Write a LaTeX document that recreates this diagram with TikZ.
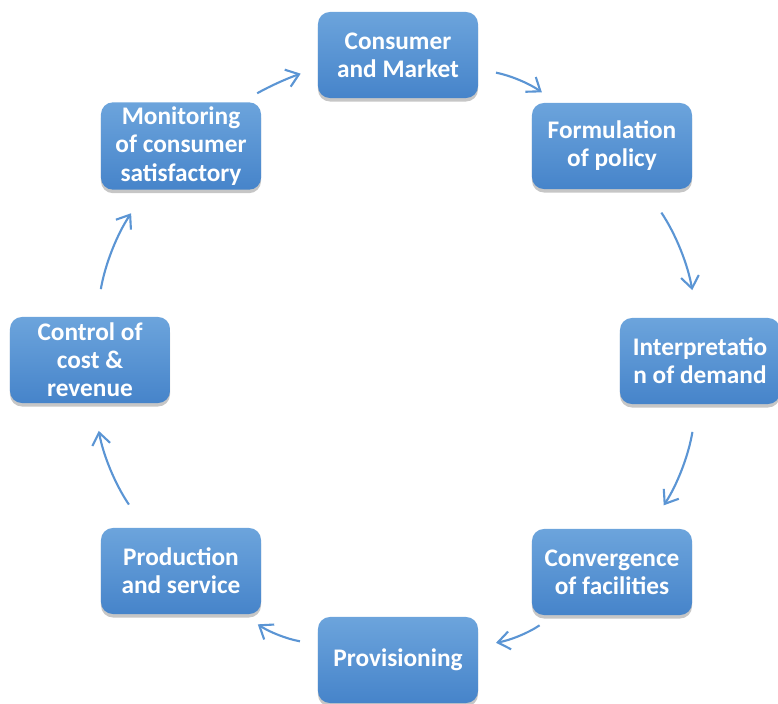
\documentclass[tikz,border=0pt]{standalone}
\usepackage{fontspec}
\setmainfont{Carlito}
\usetikzlibrary{arrows.meta,shadows}
\definecolor{boxtop}{HTML}{6CA4DC}
\definecolor{boxbot}{HTML}{4684CA}
\definecolor{arrblue}{HTML}{5B95D4}
\begin{document}
\begin{tikzpicture}[x=0.025cm,y=-0.025cm,
box/.style={rectangle,rounded corners=0.3cm,minimum width=4cm,minimum height=2.15cm,
  top color=boxtop,bottom color=boxbot,draw=none,text=white,align=center,
  font=\fontsize{18}{20}\selectfont\bfseries,
  drop shadow={shadow xshift=0pt,shadow yshift=-2.5pt,opacity=0.45}},
flow/.style={draw=arrblue,line width=1.5pt,-{Straight Barb[length=0.3cm,width=0.45cm]},
  shorten >=0.45cm,shorten <=0.45cm},
long/.style={shorten >=0.7cm,shorten <=0.7cm}]
\useasboundingbox (0,0) rectangle (778,704);
\node[box](cons) at (398,55) {Consumer\\and Market};
\node[box](form) at (612,146) {Formulation\\of policy};
\node[box](interp) at (700,361) {Interpretatio\\n of demand};
\node[box](conv) at (612,572) {Convergence\\of facilities};
\node[box](prov) at (398,660) {Provisioning};
\node[box](prod) at (181,571) {Production\\and service};
\node[box](ctrl) at (90,360) {Control of\\cost \&\\revenue};
\node[box](mon) at (181,146) {Monitoring\\of consumer\\satisfactory};
\draw[flow] (mon.36) to[bend left=5] (cons.189);
\draw[flow] (cons.-10) to[bend left=12] (form.142);
\draw[flow,long] (form.-52) to[bend left=12] (interp.94);
\draw[flow,long] (interp.-94) to[bend left=12] (conv.50);
\draw[flow] (conv.217) to[bend left=12] (prov.10);
\draw[flow] (prov.169) to[bend left=12] (prod.-35);
\draw[flow,long] (prod.130) to[bend left=12] (ctrl.-85);
\draw[flow,long] (ctrl.82) to[bend left=12] (mon.232);
\end{tikzpicture}
\end{document}
